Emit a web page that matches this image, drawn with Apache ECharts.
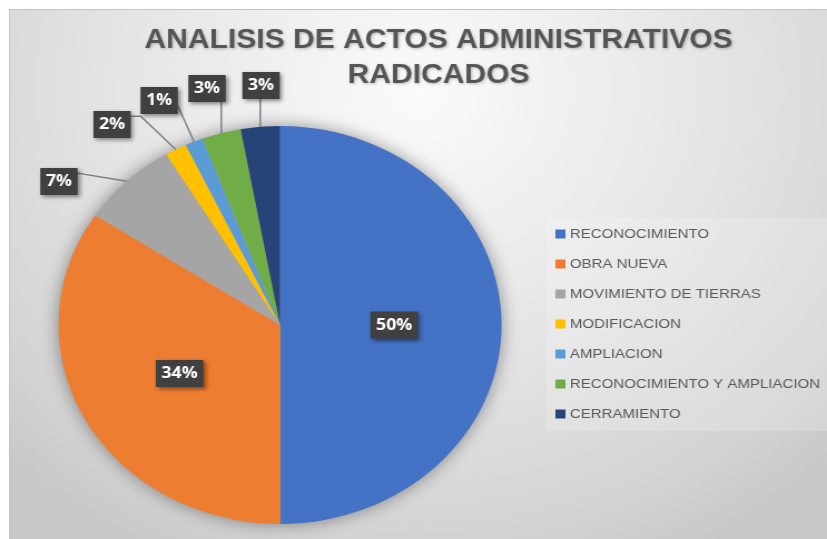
<!DOCTYPE html>
<html><head><meta charset="utf-8">
<script src="https://cdn.jsdelivr.net/npm/echarts@6/dist/echarts.min.js"></script>
<style>
html,body{margin:0;padding:0;background:#fff;width:827px;height:539px;overflow:hidden}
#frame{position:absolute;left:9px;top:9px;width:818px;height:530px;border-left:1px solid #c4c4c4;border-top:1px solid #c4c4c4;box-sizing:border-box;overflow:hidden}
#chart{position:absolute;left:0;top:0;width:734px;height:529px;transform:scaleX(1.1131);transform-origin:0 0}
</style></head><body>
<div id="frame"><div id="chart"></div></div>
<script>
// ---- data ----
const categories = ['RECONOCIMIENTO', 'OBRA NUEVA', 'MOVIMIENTO DE TIERRAS', 'MODIFICACION', 'AMPLIACION', 'RECONOCIMIENTO Y AMPLIACION', 'CERRAMIENTO'];
const values = [50.0, 34.3, 7.1, 1.6, 1.3, 2.85, 2.85];
const titleLines = ['ANALISIS DE ACTOS ADMINISTRATIVOS', 'RADICADOS'];

// ---- styles / layout ----
const colors = ['#4472C4', '#ED7D31', '#A5A5A5', '#FFC000', '#5B9BD5', '#70AD47', '#264478'];
const PIE_CX = 242.6, PIE_CY = 315, PIE_R = 199;
const labelPlace = ['inside', 'inside', 'outside', 'outside', 'outside', 'outside', 'outside'];
const labelOffset = [null, null, [-198.6, -143.5], [-150.9, -200.5], [-108.6, -224.5], [-65.6, -236.5], [-17.1, -239.5]];
const labelAttach = [null, null, {side: 'right', f: 0.19}, {side: 'right', f: 0.19, elbow: 9}, {side: 'right', f: 0.7}, {side: 'bottom'}, {side: 'bottom'}];

const total = values.reduce((a, b) => a + b, 0);
const pieData = categories.map((name, i) => ({
  name: name,
  value: values[i],
  itemStyle: { color: colors[i] },
  label: { position: labelPlace[i] },
  labelLine: { show: labelPlace[i] === 'outside' }
}));

const chart = echarts.init(document.getElementById('chart'), null, { renderer: 'canvas' });
chart.setOption({
  animation: false,
  backgroundColor: {
    type: 'radial', x: 0.5, y: 0.15, r: 1.0,
    colorStops: [
      { offset: 0, color: '#fbfbfb' },
      { offset: 0.55, color: '#e3e3e3' },
      { offset: 0.85, color: '#d3d3d3' },
      { offset: 1, color: '#c7c7c7' }
    ]
  },
  title: {
    text: titleLines.join('\n'),
    left: 380, top: 8, textAlign: 'center',
    textStyle: {
      fontFamily: 'Liberation Sans', fontSize: 27, fontWeight: 'bold', color: '#555555', lineHeight: 35,
      textShadowColor: 'rgba(0,0,0,0.25)', textShadowBlur: 3, textShadowOffsetX: 1, textShadowOffsetY: 1
    }
  },
  legend: {
    data: categories,
    orient: 'vertical',
    left: 482, top: 208,
    padding: [9, 10, 10, 8],
    backgroundColor: 'rgba(255,255,255,0.18)',
    icon: 'rect', itemWidth: 9, itemHeight: 9, itemGap: 16,
    selectedMode: false,
    textStyle: { fontFamily: 'Liberation Sans', fontSize: 13.5, color: '#595959', lineHeight: 14, padding: [0, 0, 0, -1] }
  },
  series: [
    {
      type: 'pie', silent: true, z: 1,
      center: [PIE_CX, PIE_CY], radius: PIE_R,
      data: [{ name: '', value: total, itemStyle: { color: '#b0b0b0', shadowBlur: 16, shadowColor: 'rgba(0,0,0,0.4)' } }],
      label: { show: false }, labelLine: { show: false }, tooltip: { show: false }
    },
    {
      type: 'pie', z: 2,
      center: [PIE_CX, PIE_CY], radius: PIE_R,
      startAngle: 90, clockwise: true,
      avoidLabelOverlap: false,
      percentPrecision: 0,
      data: pieData,
      label: {
        show: true, formatter: '{d}%',
        color: '#ffffff', fontFamily: 'Open Sans', fontSize: 16, fontWeight: 'bold', lineHeight: 17,
        backgroundColor: '#404040', padding: [5, 5, 5, 5],
        shadowColor: 'rgba(0,0,0,0.45)', shadowBlur: 4, shadowOffsetX: 2, shadowOffsetY: 2
      },
      labelLine: { length: 10, length2: 10, lineStyle: { color: '#808080', width: 1.5 } },
      labelLayout: function (p) {
        const i = p.dataIndex;
        const off = labelOffset[i];
        if (!off || !p.labelLinePoints) return {};
        const w = p.labelRect.width, h = p.labelRect.height;
        const cx = PIE_CX + off[0], cy = PIE_CY + off[1];
        const a = p.labelLinePoints[0];
        const spec = labelAttach[i];
        let end, mid;
        if (spec.side === 'bottom') {
          end = [a[0], cy + h / 2];
          mid = [a[0], (a[1] + end[1]) / 2];
        } else {
          end = [cx + w / 2, cy - h / 2 + spec.f * h];
          mid = spec.elbow ? [end[0] + spec.elbow, end[1]] : [(a[0] + end[0]) / 2, (a[1] + end[1]) / 2];
        }
        return { x: cx, y: cy, align: 'center', verticalAlign: 'middle', labelLinePoints: [[a[0], a[1]], mid, end] };
      },
      emphasis: { disabled: true }
    }
  ]
});
</script>
</body></html>
